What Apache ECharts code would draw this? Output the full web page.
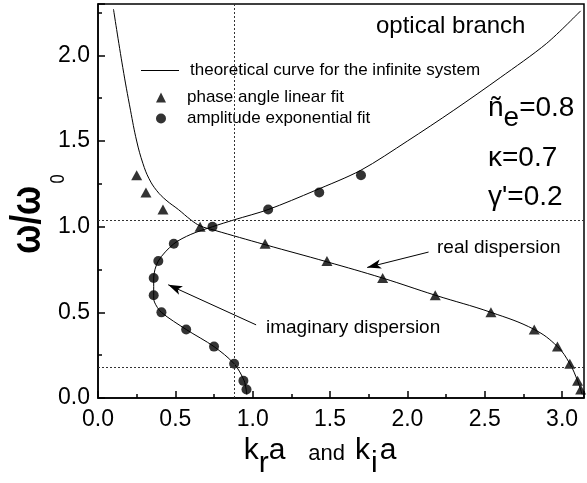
<!DOCTYPE html>
<html>
<head>
<meta charset="utf-8">
<script src="https://cdn.jsdelivr.net/npm/echarts@6/dist/echarts.min.js"></script>
<style>
  html, body { margin: 0; padding: 0; background: #fff; }
  #chart { width: 587px; height: 483px; }
</style>
</head>
<body>
<div id="chart"></div>
<script>
// Tick labels
const kTicks = [0.0, 0.5, 1.0, 1.5, 2.0, 2.5, 3.0];
const omegaTicks = [0.0, 0.5, 1.0, 1.5, 2.0];

// Theoretical curve (infinite system), real-wavenumber branch: k_r a vs omega/omega0
const realCurveK = [0.10, 0.16, 0.21, 0.25, 0.29, 0.33, 0.38, 0.44, 0.52, 0.60, 0.66, 0.75, 1.08, 1.48, 1.84, 2.18, 2.54, 2.82, 2.97, 3.05, 3.10, 3.13];
const realCurveW = [2.27, 1.93, 1.68, 1.50, 1.37, 1.28, 1.21, 1.155, 1.10, 1.04, 1.005, 0.98, 0.895, 0.795, 0.70, 0.60, 0.50, 0.40, 0.30, 0.20, 0.10, 0.02];

// Theoretical curve, imaginary-wavenumber branch running into the optical branch
const imagCurveK = [0.962, 0.945, 0.88, 0.75, 0.57, 0.41, 0.365, 0.36, 0.36, 0.39, 0.49, 0.60, 0.74, 0.88, 1.10, 1.40, 1.70, 2.00, 2.30, 2.60, 2.90, 3.12];
const imagCurveW = [0.02, 0.10, 0.20, 0.30, 0.40, 0.50, 0.56, 0.60, 0.70, 0.80, 0.90, 0.955, 1.00, 1.04, 1.10, 1.21, 1.33, 1.50, 1.68, 1.87, 2.07, 2.26];

// Phase angle linear fit (triangles)
const phaseK = [0.25, 0.31, 0.42, 0.66, 1.08, 1.48, 1.84, 2.18, 2.54, 2.82, 2.97, 3.05, 3.10, 3.12];
const phaseW = [1.30, 1.20, 1.10, 1.00, 0.90, 0.80, 0.70, 0.60, 0.50, 0.40, 0.30, 0.20, 0.10, 0.05];

// Amplitude exponential fit (circles)
const ampK = [0.96, 0.94, 0.88, 0.75, 0.57, 0.41, 0.36, 0.36, 0.39, 0.49, 0.74, 1.10, 1.43, 1.70];
const ampW = [0.05, 0.10, 0.20, 0.30, 0.40, 0.50, 0.60, 0.70, 0.80, 0.90, 1.00, 1.10, 1.20, 1.30];

// Dotted guide lines
const guideK = [0.877];
const guideW = [1.037, 0.181];

const FONT = "'Liberation Sans', Arial, Helvetica, sans-serif";
const NAME_THEORY = 'theoretical curve for the infinite system';
const NAME_PHASE = 'phase angle linear fit';
const NAME_AMP = 'amplitude exponential fit';

const zip = (a, b) => a.map((v, i) => [v, b[i]]);
const tickFormatter = ticks => v => ticks.some(t => Math.abs(t - v) < 1e-6) ? v.toFixed(1) : '';

const chart = echarts.init(document.getElementById('chart'));

const majorAxis = (max, extra) => Object.assign({
  type: 'value', min: 0, max: max, interval: 0.5,
  axisLine: { onZero: false, lineStyle: { color: '#000', width: 1.5 } },
  axisTick: { inside: true, length: 7, lineStyle: { color: '#000', width: 1.5 } },
  splitLine: { show: false }
}, extra);
const minorAxis = (max, extra) => Object.assign({
  type: 'value', min: 0, max: max, interval: 0.25,
  axisLine: { show: false },
  axisTick: { inside: true, length: 4, lineStyle: { color: '#000', width: 1.5 } },
  axisLabel: { show: false },
  splitLine: { show: false }
}, extra);

const legendText = pad => ({ color: '#000', fontSize: 17, fontFamily: FONT, padding: [0, 0, 0, pad] });

chart.setOption({
  animation: false,
  backgroundColor: '#fff',
  grid: { left: 98, right: 1, top: 4, bottom: 85, show: true, borderColor: '#000', borderWidth: 1.5 },
  xAxis: [
    majorAxis(Math.PI, { position: 'bottom', axisLabel: { color: '#000', fontSize: 23, fontFamily: FONT, margin: 10, formatter: tickFormatter(kTicks) } }),
    minorAxis(Math.PI, { position: 'bottom' })
  ],
  yAxis: [
    majorAxis(2.3, { position: 'left', axisLabel: { color: '#000', fontSize: 23, fontFamily: FONT, margin: 8, formatter: tickFormatter(omegaTicks) } }),
    minorAxis(2.3, { position: 'left' })
  ],
  legend: [
    {
      data: [{ name: NAME_THEORY, icon: 'rect' }], left: 141, top: 62, padding: 0,
      itemWidth: 38, itemHeight: 1, textStyle: legendText(6), selectedMode: false
    },
    {
      data: [NAME_PHASE, NAME_AMP], orient: 'vertical', left: 156, top: 89, padding: 0,
      itemWidth: 10, itemHeight: 10, itemGap: 4, textStyle: legendText(16), selectedMode: false
    }
  ],
  graphic: [
    { type: 'text', x: 376, y: 26, style: { text: 'optical branch', font: '24px ' + FONT, fill: '#000', verticalAlign: 'middle' } },
    { type: 'text', x: 437, y: 248, style: { text: 'real dispersion', font: '19px ' + FONT, fill: '#000', verticalAlign: 'middle' } },
    { type: 'text', x: 266, y: 328, style: { text: 'imaginary dispersion', font: '19px ' + FONT, fill: '#000', verticalAlign: 'middle' } },
    {
      type: 'text', x: 488, y: 113,
      style: {
        text: '{m|ñ}{s|e}{m|=0.8}', verticalAlign: 'middle', fill: '#000',
        rich: {
          m: { fontSize: 28, fontFamily: FONT, verticalAlign: 'top' },
          s: { fontSize: 28, fontFamily: FONT, verticalAlign: 'top', padding: [10, 0, 0, 0] }
        }
      }
    },
    { type: 'text', x: 488, y: 158, style: { text: 'κ=0.7', font: '28px ' + FONT, fill: '#000', verticalAlign: 'middle' } },
    { type: 'text', x: 488, y: 197, style: { text: "γ'=0.2", font: '28px ' + FONT, fill: '#000', verticalAlign: 'middle' } },
    {
      type: 'text', x: 320, y: 457,
      style: {
        text: '{m|k}{s|r}{m|a}{a|and}{m|k}{i|i}{m|a}', align: 'center', verticalAlign: 'middle', fill: '#000',
        rich: {
          m: { fontSize: 30, fontFamily: FONT, verticalAlign: 'top' },
          s: { fontSize: 30, fontFamily: FONT, verticalAlign: 'top', padding: [13, 0, 0, 0] },
          i: { fontSize: 30, fontFamily: FONT, verticalAlign: 'top', padding: [13, 2, 0, 1] },
          a: { fontSize: 22, fontFamily: FONT, verticalAlign: 'top', padding: [7, 10, 0, 23] }
        }
      }
    },
    {
      type: 'text', x: 7, y: 214, rotation: Math.PI / 2, scaleX: 0.82,
      style: {
        text: '{m|ω/ω}{s|0}', align: 'center', verticalAlign: 'top', fill: '#000',
        rich: {
          m: { fontSize: 42, fontFamily: FONT, fontWeight: 'bold', verticalAlign: 'top' },
          s: { fontSize: 20, fontFamily: FONT, verticalAlign: 'top', padding: [41, 0, 0, 3] }
        }
      }
    }
  ],
  series: [
    {
      name: NAME_THEORY, type: 'line', data: zip(realCurveK, realCurveW),
      symbol: 'none', showSymbol: false, smooth: 0.4, clip: true,
      lineStyle: { color: '#000', width: 1 }, itemStyle: { color: '#000' }, z: 3,
      markLine: {
        silent: true, symbol: ['none', 'none'], label: { show: false },
        lineStyle: { type: [2, 2], color: '#333', width: 1 },
        data: guideK.map(v => ({ xAxis: v })).concat(guideW.map(v => ({ yAxis: v })))
      }
    },
    {
      name: NAME_THEORY, type: 'line', data: zip(imagCurveK, imagCurveW),
      symbol: 'none', showSymbol: false, smooth: 0.3, clip: true,
      lineStyle: { color: '#000', width: 1 }, itemStyle: { color: '#000' }, z: 3,
      markLine: {
        silent: true, symbol: ['none', 'arrow'], symbolSize: [7, 14], label: { show: false },
        lineStyle: { type: 'solid', color: '#000', width: 1 },
        data: [
          [{ coord: [2.137, 0.852] }, { coord: [1.740, 0.762] }],
          [{ coord: [1.022, 0.427] }, { coord: [0.454, 0.661] }]
        ]
      }
    },
    {
      name: NAME_PHASE, type: 'scatter', data: zip(phaseK, phaseW),
      symbol: 'triangle', symbolSize: [11, 10], itemStyle: { color: '#000' }, z: 4
    },
    {
      name: NAME_AMP, type: 'scatter', data: zip(ampK, ampW),
      symbol: 'circle', symbolSize: 10, itemStyle: { color: '#000' }, z: 4
    }
  ]
});
</script>
</body>
</html>
